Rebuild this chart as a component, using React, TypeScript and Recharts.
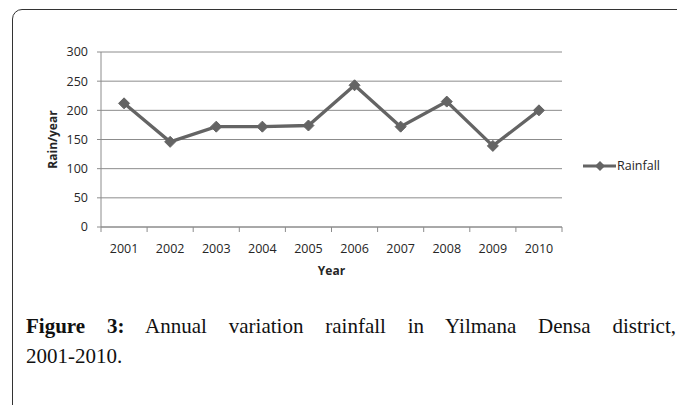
import React from 'react';
import { LineChart, XAxis, YAxis, CartesianGrid, Line } from 'recharts';

const years = ['2001', '2002', '2003', '2004', '2005', '2006', '2007', '2008', '2009', '2010'];
const rainfall = [212, 146, 172, 172, 174, 243, 172, 215, 139, 200];
const yTicks = [0, 50, 100, 150, 200, 250, 300];
const seriesName = 'Rainfall';
const xTitle = 'Year';
const yTitle = 'Rain/year';

const data = years.map((year, i) => ({ year, rainfall: rainfall[i] }));

const CHART_W = 677;
const CHART_H = 290;
const MARGIN = { top: 52, right: 115, bottom: 0, left: 0 };
const Y_AXIS_W = 101;
const X_AXIS_H = 63;
const HALF_BAND = (CHART_W - MARGIN.left - MARGIN.right - Y_AXIS_W) / years.length / 2;

const LINE_COLOR = '#646464';
const AXIS_COLOR = '#8c8c8c';
const TEXT_COLOR = '#262626';
const FONT = '"Open Sans", sans-serif';

const Diamond = (props: any) => {
    const { cx, cy } = props;
    if (cx == null || cy == null) return null;
    const r = 5.5;
    return (
        <polygon
            points={`${cx},${cy - r} ${cx + r},${cy} ${cx},${cy + r} ${cx - r},${cy}`}
            fill={LINE_COLOR}
            stroke={LINE_COLOR}
        />
    );
};

const XTick = (props: any) => {
    const { x, y, payload, index } = props;
    const last = index === years.length - 1;
    return (
        <g>
            <line x1={x - HALF_BAND} y1={y} x2={x - HALF_BAND} y2={y + 5} stroke={AXIS_COLOR} />
            {last && <line x1={x + HALF_BAND} y1={y} x2={x + HALF_BAND} y2={y + 5} stroke={AXIS_COLOR} />}
            <text x={x} y={y + 21} textAnchor="middle" dominantBaseline="central" fontSize={12.5} fontFamily={FONT} fill={TEXT_COLOR}>
                {payload.value}
            </text>
        </g>
    );
};

const App = () => {
    return (
        <div style={{ position: 'absolute', left: 0, top: 0, width: 677, height: 405, overflow: 'hidden', background: '#fff' }}>
            <div
                style={{
                    position: 'absolute',
                    left: 12,
                    top: 9,
                    width: 720,
                    height: 420,
                    border: '1.5px solid #333',
                    borderTopLeftRadius: 10,
                    boxSizing: 'border-box',
                }}
            />
            <div style={{ position: 'absolute', left: 0, top: 0 }}>
                <LineChart width={CHART_W} height={CHART_H} data={data} margin={MARGIN}>
                    <CartesianGrid vertical={false} stroke={AXIS_COLOR} />
                    <XAxis
                        dataKey="year"
                        height={X_AXIS_H}
                        stroke={AXIS_COLOR}
                        padding={{ left: HALF_BAND, right: HALF_BAND }}
                        tickLine={false}
                        tickSize={0}
                        tickMargin={0}
                        interval={0}
                        tick={<XTick />}
                        label={{ value: xTitle, position: 'center', dy: 12, fontSize: 12, fontWeight: 'bold', fontFamily: FONT, fill: TEXT_COLOR }}
                    />
                    <YAxis
                        width={Y_AXIS_W}
                        domain={[0, 300]}
                        ticks={yTicks}
                        stroke={AXIS_COLOR}
                        tickSize={4}
                        tickMargin={9}
                        tick={{ fontSize: 12.5, fontFamily: FONT, fill: TEXT_COLOR }}
                        label={{ value: yTitle, angle: -90, position: 'center', dx: 2, fontSize: 12, fontWeight: 'bold', fontFamily: FONT, fill: TEXT_COLOR }}
                    />
                    <Line
                        type="linear"
                        dataKey="rainfall"
                        name={seriesName}
                        stroke={LINE_COLOR}
                        strokeWidth={3.3}
                        dot={<Diamond />}
                        activeDot={false}
                        isAnimationActive={false}
                    />
                </LineChart>
            </div>
            <div style={{ position: 'absolute', left: 583, top: 157, display: 'flex', alignItems: 'center', fontFamily: FONT, fontSize: 12.5, color: TEXT_COLOR }}>
                <svg width={33} height={14}>
                    <line x1={0} y1={7} x2={33} y2={7} stroke={LINE_COLOR} strokeWidth={3} />
                    <polygon points="17,2 22,7 17,12 12,7" fill={LINE_COLOR} />
                </svg>
                <span style={{ marginLeft: 1 }}>{seriesName}</span>
            </div>
            <div style={{ position: 'absolute', left: 26, top: 311, width: 650, fontFamily: '"Liberation Serif", serif', fontSize: 21, lineHeight: '30px', color: '#111' }}>
                <div style={{ textAlign: 'justify', textAlignLast: 'justify', whiteSpace: 'nowrap' }}>
                    <b>Figure 3:</b> Annual variation rainfall in Yilmana Densa district,
                </div>
                <div>2001-2010.</div>
            </div>
        </div>
    );
};

export default App;
